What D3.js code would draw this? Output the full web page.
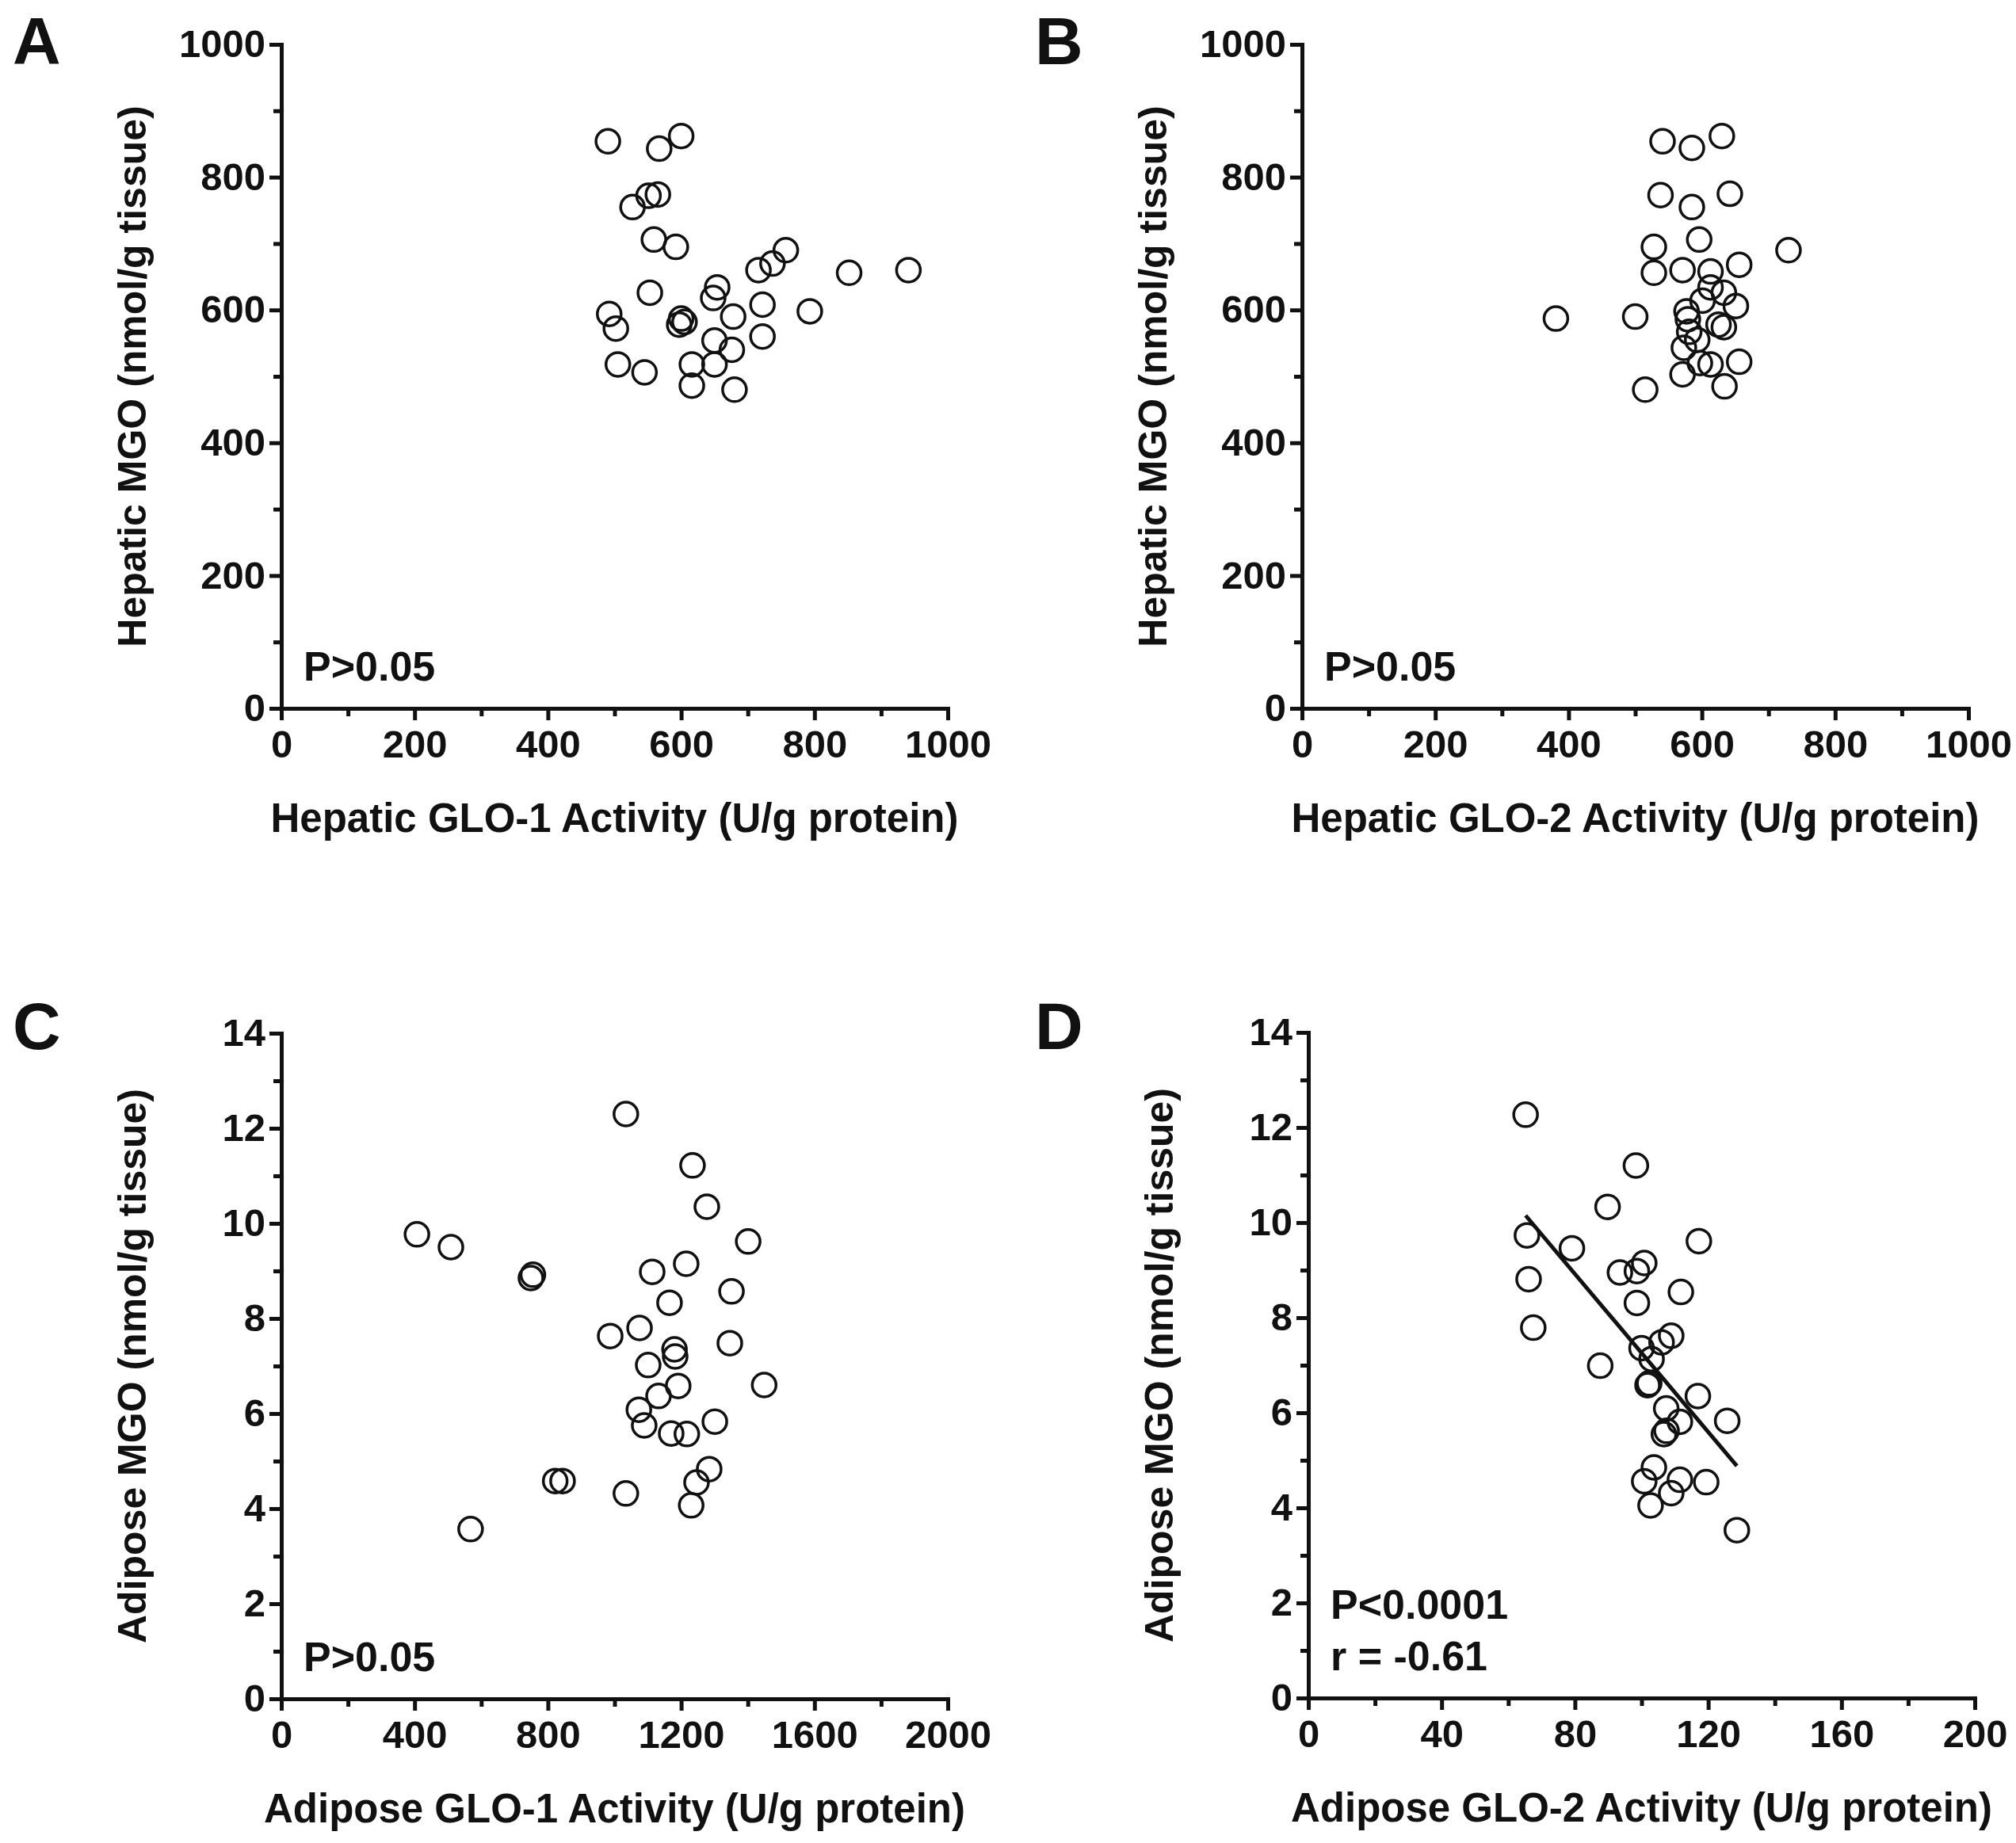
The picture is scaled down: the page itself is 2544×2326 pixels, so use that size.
<!DOCTYPE html>
<html>
<head>
<meta charset="utf-8">
<script src="https://cdn.jsdelivr.net/npm/d3@7"></script>
<style>
  html, body { margin: 0; padding: 0; background: #fff; }
  svg { display: block; }
  text { font-family: "Liberation Sans", Arial, Helvetica, sans-serif; font-weight: bold; fill: #111; }
</style>
</head>
<body>
<svg id="chart" width="2544" height="2326"></svg>
<script>
// ---------------- DATA ----------------
// Panel A: Hepatic GLO-1 activity vs hepatic MGO
const hepGlo1 = [490, 600, 567, 551, 565, 527, 559, 592, 757, 737, 716, 852, 941, 553, 654, 648, 722, 793, 492, 502, 600, 597, 605, 678, 722, 650, 676, 505, 545, 616, 650, 616, 680];
const hepMgoA = [854, 862, 843, 772, 774, 755, 706, 695, 690, 670, 660, 656, 660, 626, 634, 618, 608, 598, 594, 572, 587, 578, 582, 590, 560, 554, 540, 518, 506, 518, 518, 486, 480];

// Panel B: Hepatic GLO-2 activity vs hepatic MGO
const hepGlo2 = [541, 585, 630, 538, 585, 642, 596, 528, 730, 528, 571, 613, 656, 381, 500, 613, 633, 651, 577, 579, 601, 633, 625, 581, 573, 593, 656, 613, 597, 571, 634, 515];
const hepMgoB = [854, 844, 862, 773, 755, 775, 706, 695, 690, 656, 660, 658, 668, 587, 590, 634, 626, 606, 598, 586, 614, 574, 578, 567, 543, 555, 522, 518, 520, 503, 485, 480];

// Panel C: Adipose GLO-1 activity vs adipose MGO
const adiGlo1 = [1034, 1234, 1277, 407, 509, 1401, 749, 755, 1215, 1113, 1351, 1165, 1075, 987, 1346, 1180, 1182, 1101, 1449, 1191, 1132, 1073, 1089, 1301, 1170, 1217, 1284, 1246, 822, 844, 1034, 1230, 568];
const adiMgoC = [12.30, 11.22, 10.35, 9.77, 9.50, 9.62, 8.85, 8.92, 9.15, 8.98, 8.57, 8.33, 7.80, 7.63, 7.48, 7.35, 7.20, 7.02, 6.60, 6.58, 6.37, 6.08, 5.75, 5.83, 5.58, 5.57, 4.83, 4.55, 4.58, 4.58, 4.32, 4.07, 3.57];

// Panel D: Adipose GLO-2 activity vs adipose MGO
const adiGlo2 = [65.2, 98.3, 89.8, 65.6, 79.1, 117.2, 93.5, 98.6, 100.8, 66.1, 111.8, 98.6, 67.5, 108.9, 106.0, 100.0, 103.0, 87.6, 101.8, 102.3, 116.9, 107.4, 111.5, 125.7, 106.7, 107.5, 103.7, 100.8, 111.5, 119.4, 108.9, 102.7, 128.6];
const adiMgoD = [12.27, 11.20, 10.33, 9.73, 9.46, 9.61, 8.95, 8.98, 9.15, 8.81, 8.54, 8.31, 7.79, 7.62, 7.48, 7.36, 7.13, 6.99, 6.58, 6.62, 6.35, 6.09, 5.81, 5.83, 5.55, 5.62, 4.85, 4.56, 4.59, 4.54, 4.31, 4.05, 3.53];

// Panel D regression line (fitted values)
const fitX = [65.2, 128.6];
const fitY = [10.15, 4.88];

// Tick values
const ticksHep = [0, 200, 400, 600, 800, 1000];
const minorHep = [100, 300, 500, 700, 900];
const ticksAdiMgo = [0, 2, 4, 6, 8, 10, 12, 14];
const minorAdiMgo = [1, 3, 5, 7, 9, 11, 13];
const ticksGlo1C = [0, 400, 800, 1200, 1600, 2000];
const minorGlo1C = [200, 600, 1000, 1400, 1800];
const ticksGlo2D = [0, 40, 80, 120, 160, 200];
const minorGlo2D = [20, 60, 100, 140, 180];

// Texts
const panelLetters = ["A", "B", "C", "D"];
const xTitles = ["Hepatic GLO-1 Activity (U/g protein)", "Hepatic GLO-2 Activity (U/g protein)",
                 "Adipose GLO-1 Activity (U/g protein)", "Adipose GLO-2 Activity (U/g protein)"];
const yTitles = ["Hepatic MGO (nmol/g tissue)", "Hepatic MGO (nmol/g tissue)",
                 "Adipose MGO (nmol/g tissue)", "Adipose MGO (nmol/g tissue)"];
const statTexts = [["P>0.05"], ["P>0.05"], ["P>0.05"], ["P<0.0001", "r = -0.61"]];

// ---------------- LAYOUT ----------------
const panels = [
  { letter: panelLetters[0], lx: 16, ly: 81, px: [355, 1196], py: [894, 56],
    xd: [0, 1000], yd: [0, 1000], xt: ticksHep, xm: minorHep, yt: ticksHep, ym: minorHep,
    xs: hepGlo1, ys: hepMgoA, xTitle: xTitles[0], yTitle: yTitles[0], stats: statTexts[0] },
  { letter: panelLetters[1], lx: 1306, ly: 81, px: [1643, 2484], py: [894, 56],
    xd: [0, 1000], yd: [0, 1000], xt: ticksHep, xm: minorHep, yt: ticksHep, ym: minorHep,
    xs: hepGlo2, ys: hepMgoB, xTitle: xTitles[1], yTitle: yTitles[1], stats: statTexts[1] },
  { letter: panelLetters[2], lx: 16, ly: 1324, px: [355, 1196], py: [2144, 1304],
    xd: [0, 2000], yd: [0, 14], xt: ticksGlo1C, xm: minorGlo1C, yt: ticksAdiMgo, ym: minorAdiMgo,
    xs: adiGlo1, ys: adiMgoC, xTitle: xTitles[2], yTitle: yTitles[2], stats: statTexts[2] },
  { letter: panelLetters[3], lx: 1306, ly: 1324, px: [1651, 2492], py: [2143, 1303],
    xd: [0, 200], yd: [0, 14], xt: ticksGlo2D, xm: minorGlo2D, yt: ticksAdiMgo, ym: minorAdiMgo,
    xs: adiGlo2, ys: adiMgoD, xTitle: xTitles[3], yTitle: yTitles[3], stats: statTexts[3],
    fit: { xs: fitX, ys: fitY } }
];

const svg = d3.select("#chart");
svg.append("rect").attr("width", 2544).attr("height", 2326).attr("fill", "#fff");

const INK = "#111";
const TICK_FONT = 49;
const TITLE_FONT = 51;

panels.forEach(p => {
  const x = d3.scaleLinear().domain(p.xd).range(p.px);
  const y = d3.scaleLinear().domain(p.yd).range(p.py);
  const g = svg.append("g");

  // Panel letter
  g.append("text").attr("x", p.lx).attr("y", p.ly)
    .attr("font-size", 84).style("font-weight", "900").text(p.letter);

  // Minor ticks
  const xMinor = g.append("g").attr("transform", `translate(0,${p.py[0]})`)
    .call(d3.axisBottom(x).tickValues(p.xm).tickSize(10).tickSizeOuter(0).tickFormat(""));
  const yMinor = g.append("g").attr("transform", `translate(${p.px[0]},0)`)
    .call(d3.axisLeft(y).tickValues(p.ym).tickSize(10).tickSizeOuter(0).tickFormat(""));
  [xMinor, yMinor].forEach(a => {
    a.select(".domain").remove();
    a.selectAll("line").attr("stroke", INK).attr("stroke-width", 5);
  });

  // Major axes
  const xAxis = g.append("g").attr("transform", `translate(0,${p.py[0]})`)
    .call(d3.axisBottom(x).tickValues(p.xt).tickSize(15).tickSizeOuter(0).tickPadding(12).tickFormat(d3.format("d")));
  const yAxis = g.append("g").attr("transform", `translate(${p.px[0]},0)`)
    .call(d3.axisLeft(y).tickValues(p.yt).tickSize(15).tickSizeOuter(0).tickPadding(5).tickFormat(d3.format("d")));
  [xAxis, yAxis].forEach(a => {
    a.attr("font-family", null).attr("font-size", null);
    a.select(".domain").attr("stroke", INK).attr("stroke-width", 5).attr("stroke-linecap", "square");
    a.selectAll(".tick line").attr("stroke", INK).attr("stroke-width", 5);
    a.selectAll(".tick text").attr("font-size", TICK_FONT).attr("fill", INK);
  });

  // Axis titles
  g.append("text")
    .attr("x", (p.px[0] + p.px[1]) / 2).attr("y", p.py[0] + 156)
    .attr("text-anchor", "middle").attr("font-size", TITLE_FONT).text(p.xTitle);
  g.append("text")
    .attr("transform", `translate(${p.px[0] - 171},${(p.py[0] + p.py[1]) / 2}) rotate(-90)`)
    .attr("text-anchor", "middle").attr("font-size", 50).text(p.yTitle);

  // Stats text
  const nS = p.stats.length;
  p.stats.forEach((s, i) => {
    g.append("text")
      .attr("x", p.px[0] + 28).attr("y", p.py[0] - 35 - (nS - 1 - i) * 65)
      .attr("font-size", 52).text(s);
  });

  // Regression line
  if (p.fit) {
    const line = d3.line().x(d => x(d[0])).y(d => y(d[1]));
    g.append("path")
      .datum(p.fit.xs.map((v, i) => [v, p.fit.ys[i]]))
      .attr("d", line).attr("fill", "none").attr("stroke", INK).attr("stroke-width", 5);
  }

  // Points
  g.append("g").selectAll("circle")
    .data(p.xs.map((v, i) => [v, p.ys[i]]))
    .join("circle")
    .attr("cx", d => x(d[0])).attr("cy", d => y(d[1])).attr("r", 15)
    .attr("fill", "none").attr("stroke", INK).attr("stroke-width", 3.5);
});
</script>
</body>
</html>
